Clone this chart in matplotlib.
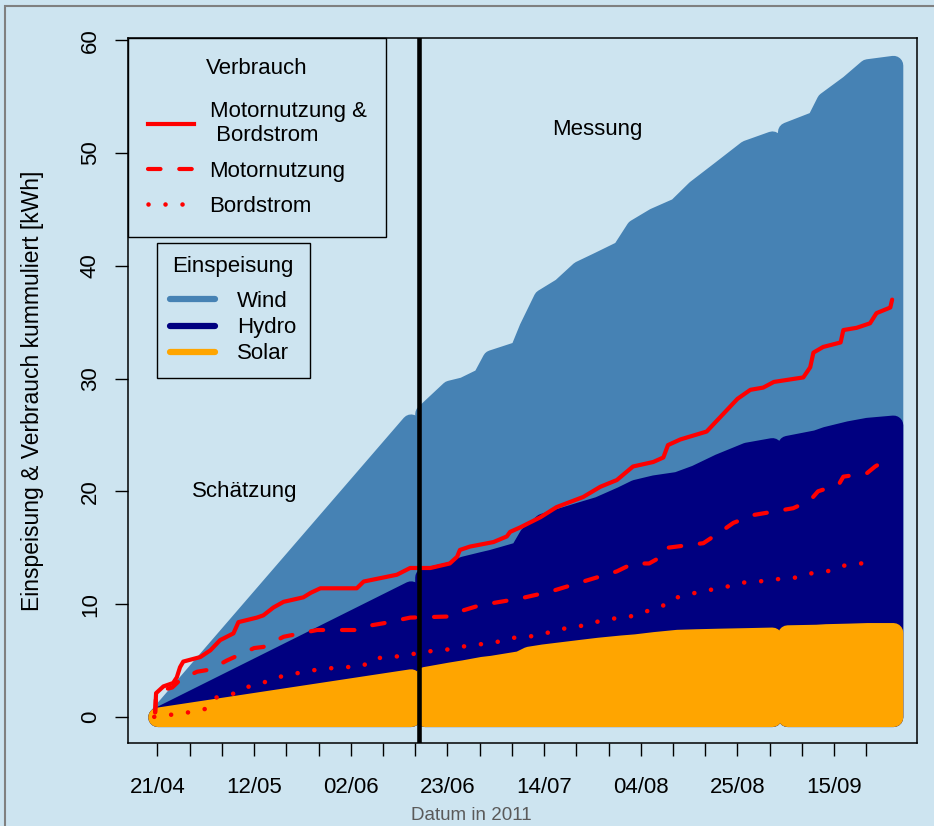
import numpy as np
import matplotlib
matplotlib.use('Agg')
import matplotlib.pyplot as plt
from matplotlib.lines import Line2D
from matplotlib.patches import Rectangle

plt.rcParams['font.family'] = ['Liberation Sans', 'DejaVu Sans']

# --- data (days since 21/04/2011, cumulative kWh) -------------------------
# feed-in, stacked tops: total = solar + hydro + wind, hydro = solar + hydro
est_days = [0, 55.0]
est_total = [0, 26.0]
est_hydro = [0, 11.2]
est_solar = [0, 3.4]

m1_days = [58.0, 63.5, 66.5, 70.5, 72.6, 78.6, 80.6, 83.7, 87.7, 91.7,
           95.8, 100.8, 103.8, 107.9, 112.9, 116.9, 122.0, 128.0, 133.5]
m1_total = [26.9, 29.0, 29.3, 30.1, 31.7, 32.5, 34.5, 37.1, 38.1, 39.6,
            40.4, 41.4, 43.3, 44.3, 45.2, 46.8, 48.4, 50.3, 51.1]
m1_hydro = [12.4, 12.9, 13.4, 13.8, 14.0, 14.7, 16.1, 17.2, 17.7, 18.2,
            18.7, 19.6, 20.2, 20.6, 20.9, 21.5, 22.5, 23.5, 23.9]
m1_solar = [3.6, 4.0, 4.2, 4.5, 4.6, 5.0, 5.4, 5.6, 5.8, 6.0,
            6.2, 6.4, 6.5, 6.7, 6.9, 6.95, 7.0, 7.05, 7.1]

m2_days = [136.8, 143.1, 145.2, 150.2, 154.2, 159.8]
m2_total = [51.9, 52.9, 54.6, 56.1, 57.5, 57.8]
m2_hydro = [24.1, 24.6, 24.9, 25.4, 25.7, 25.9]
m2_solar = [7.3, 7.35, 7.4, 7.45, 7.5, 7.5]

# consumption
both_days = [-0.5, -0.3, 1.3, 3.4, 4.2, 4.9, 5.6, 9.3, 11.5, 13.6,
             16.5, 17.6, 21.6, 23.0, 25.2, 27.4, 31.7, 33.3, 35.4, 43.3,
             44.8, 52.0, 54.9, 59.3, 63.5, 65.1, 65.7, 67.9, 73.0, 75.9,
             76.6, 78.8, 83.2, 86.7, 92.5, 96.2, 99.8, 103.3, 107.7, 109.9,
             110.9, 113.6, 119.3, 123.0, 126.0, 128.8, 131.6, 133.9, 140.3, 141.8,
             142.5, 144.6, 148.4, 149.0, 151.9, 154.8, 156.2, 159.2, 159.6]
both_kwh = [0.4, 2.1, 2.7, 3.0, 3.5, 4.4, 4.9, 5.3, 5.9, 6.8,
            7.4, 8.4, 8.8, 9.0, 9.7, 10.2, 10.6, 11.0, 11.4, 11.4,
            12.0, 12.6, 13.2, 13.2, 13.6, 14.2, 14.8, 15.1, 15.5, 16.0,
            16.4, 16.8, 17.7, 18.6, 19.5, 20.4, 21.0, 22.2, 22.6, 23.0,
            24.1, 24.6, 25.3, 26.9, 28.2, 29.0, 29.2, 29.7, 30.1, 31.0,
            32.3, 32.8, 33.2, 34.3, 34.5, 34.9, 35.8, 36.3, 37.0]

motor_days = [-0.5, -0.3, 1.3, 3.2, 5.0, 8.6, 11.5, 15.1, 21.0, 23.0,
              27.4, 31.0, 34.7, 43.3, 44.8, 49.1, 54.9, 63.5, 65.3, 70.1,
              78.8, 85.3, 92.5, 99.8, 103.3, 106.8, 110.3, 110.9, 118.6, 123.0,
              125.1, 129.5, 138.1, 141.8, 143.5, 148.0, 149.0, 154.1, 155.9, 159.6]
motor_kwh = [0.4, 2.0, 2.4, 2.6, 3.3, 4.0, 4.2, 5.0, 6.1, 6.2,
             7.1, 7.4, 7.7, 7.7, 8.0, 8.3, 8.8, 8.9, 9.3, 9.9,
             10.5, 11.1, 12.0, 12.9, 13.6, 13.6, 14.4, 15.0, 15.4, 16.6,
             17.2, 17.9, 18.5, 19.2, 20.0, 20.6, 21.3, 21.6, 22.2, 23.1]

board_days = [-0.7, 3.2, 6.8, 10.4, 12.6, 16.2, 19.1, 22.8, 26.0, 29.5,
              33.2, 37.2, 40.8, 44.5, 47.3, 51.0, 54.5, 58.6, 62.1, 65.7,
              69.4, 73.4, 77.0, 80.6, 84.2, 87.9, 91.4, 95.1, 98.8, 102.7,
              105.8, 109.6, 112.1, 115.7, 119.3, 123.3, 127.0, 130.6, 134.3, 138.1,
              141.6, 145.5, 149.0, 152.7, 156.5]
board_kwh = [0.0, 0.2, 0.4, 0.7, 1.7, 2.0, 2.6, 3.0, 3.5, 3.8,
             4.1, 4.3, 4.4, 4.5, 5.2, 5.3, 5.5, 5.8, 5.9, 6.2,
             6.4, 6.6, 7.0, 7.1, 7.4, 7.8, 8.0, 8.4, 8.7, 8.9,
             9.3, 9.8, 10.5, 10.9, 11.2, 11.5, 11.9, 12.0, 12.2, 12.3,
             12.7, 12.9, 13.4, 13.6, 13.7]

switch_day = 56.9  # estimate -> measurement

tick_days = list(range(0, 155, 7))
tick_labels = ['21/04', '', '', '12/05', '', '', '02/06', '', '', '23/06', '', '',
               '14/07', '', '', '04/08', '', '', '25/08', '', '', '15/09', '']
y_ticks = [0, 10, 20, 30, 40, 50, 60]

# --- style -----------------------------------------------------------------
BG = '#cde4f0'
WIND = '#4682b4'
HYDRO = '#000080'
SOLAR = '#ffa500'
W, H = 934, 826

fig = plt.figure(figsize=(W / 100, H / 100), dpi=100, facecolor=BG)
ax = fig.add_axes([128 / W, 1 - 743 / H, (917 - 128) / W, (743 - 38) / H])
ax.set_facecolor(BG)

pieces = [(est_days, est_total, est_hydro, est_solar),
          (m1_days, m1_total, m1_hydro, m1_solar),
          (m2_days, m2_total, m2_hydro, m2_solar)]

# thick round edges mimic the fat line segments of the original
for idx, col in [(1, WIND), (2, HYDRO), (3, SOLAR)]:
    for p in pieces:
        pc = ax.fill_between(p[0], 0, p[idx], facecolor=col, edgecolor=col,
                             linewidth=14, zorder=1)
        pc.set_joinstyle('round')

ax.plot(both_days, both_kwh, color='red', lw=3.0, solid_joinstyle='round',
        solid_capstyle='round', zorder=3)
ax.plot(motor_days, motor_kwh, color='red', lw=3.0, dashes=(3, 4.5),
        dash_capstyle='round', dash_joinstyle='round', zorder=3)
ax.plot(board_days, board_kwh, color='red', lw=3.3, dashes=(0.01, 3.7),
        dash_capstyle='round', zorder=3)

ax.axvline(switch_day, color='black', lw=3.3, zorder=4)

ax.text(19.0, 20.0, 'Schätzung', ha='center', va='center', fontsize=16)
ax.text(95.5, 52.1, 'Messung', ha='center', va='center', fontsize=16)

ax.set_xlim(-6.4, 165.0)
ax.set_ylim(-2.32, 60.2)
ax.set_xticks(tick_days)
ax.set_xticklabels(tick_labels)
ax.set_yticks(y_ticks)
ax.set_yticklabels([str(v) for v in y_ticks], rotation=90, va='center')
ax.tick_params(axis='both', direction='out', length=9.5, width=1.0,
               labelsize=16, color='black')
ax.tick_params(axis='x', pad=15)
ax.tick_params(axis='y', pad=10)
for s in ax.spines.values():
    s.set_linewidth(1.1)

fig.text(33 / W, 1 - 391 / H, 'Einspeisung & Verbrauch kummuliert [kWh]',
         rotation=90, ha='center', va='center', fontsize=16.5)
fig.text(471 / W, 1 - 815 / H, 'Datum in 2011', ha='center', va='center',
         fontsize=13.5, color='#5a5a5a')

# legends
cons_handles = [
    Line2D([], [], color='red', lw=3.0),
    Line2D([], [], color='red', lw=3.0, dashes=(3, 4.5), dash_capstyle='round'),
    Line2D([], [], color='red', lw=3.3, dashes=(0.01, 3.7), dash_capstyle='round'),
]
cons_labels = ['Motornutzung &\n Bordstrom', 'Motornutzung', 'Bordstrom']
leg1 = ax.legend(cons_handles, cons_labels, title='Verbrauch', loc='upper left',
                 bbox_to_anchor=(128 / W, 1 - 38 / H), bbox_transform=fig.transFigure,
                 borderaxespad=0, fontsize=16, title_fontsize=16, fancybox=False,
                 edgecolor='black', facecolor=BG, framealpha=1, borderpad=0.9,
                 labelspacing=0.64, handlelength=2.05, handletextpad=0.72)
leg1.get_frame().set_linewidth(1.0)
leg1._legend_box.sep = 16
ax.add_artist(leg1)

feed_handles = [Line2D([], [], color=c, lw=4.5, solid_capstyle='round')
                for c in (WIND, HYDRO, SOLAR)]
leg2 = ax.legend(feed_handles, ['Wind', 'Hydro', 'Solar'], title='Einspeisung',
                 loc='upper left', bbox_to_anchor=(157 / W, 1 - 243 / H),
                 bbox_transform=fig.transFigure, borderaxespad=0, fontsize=16,
                 title_fontsize=16, fancybox=False, edgecolor='black', facecolor=BG,
                 framealpha=1, borderpad=0.6, labelspacing=0.23,
                 handlelength=2.0, handletextpad=1.0)
leg2.get_frame().set_linewidth(1.0)
leg2._legend_box.sep = 10

# outer figure border (left/top visible only)
fig.patches.append(Rectangle((5 / W, -0.1), 1.2, 1.1 - 6 / H, transform=fig.transFigure,
                             fill=False, edgecolor='#808080', lw=1.5))

fig.savefig('out.png', dpi=100, facecolor=BG)
